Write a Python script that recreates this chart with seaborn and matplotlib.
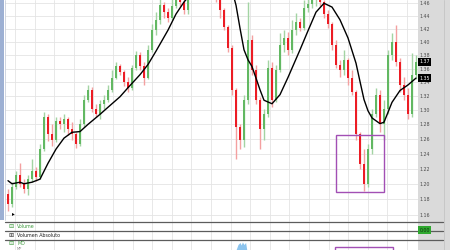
import numpy as np
import matplotlib
matplotlib.use("Agg")
import matplotlib.pyplot as plt
import seaborn as sns
from matplotlib.patches import Rectangle
from matplotlib.lines import Line2D
from matplotlib.ticker import NullLocator
import matplotlib.transforms as mtransforms

# ---------------- data ----------------
open_ = [1.187, 1.174, 1.196, 1.211, 1.200, 1.193, 1.206, 1.217, 1.209, 1.246,
         1.290, 1.266, 1.259, 1.284, 1.280, 1.287, 1.273, 1.266, 1.253, 1.280,
         1.315, 1.329, 1.301, 1.294, 1.308, 1.315, 1.329, 1.346, 1.364, 1.355,
         1.341, 1.332, 1.361, 1.380, 1.364, 1.346, 1.388, 1.418, 1.434, 1.457,
         1.446, 1.437, 1.456, 1.472, 1.462, 1.449, 1.473, 1.489, 1.501, 1.514,
         1.506, 1.497, 1.484, 1.470, 1.449, 1.423, 1.391, 1.329, 1.276, 1.259,
         1.315, 1.403, 1.358, 1.315, 1.273, 1.294, 1.361, 1.315, 1.358, 1.395,
         1.406, 1.388, 1.418, 1.431, 1.421, 1.452, 1.459, 1.465, 1.468, 1.462,
         1.443, 1.428, 1.395, 1.366, 1.358, 1.373, 1.346, 1.326, 1.266, 1.226,
         1.200, 1.246, 1.294, 1.322, 1.280, 1.301, 1.380, 1.400, 1.370, 1.336,
         1.322, 1.294, 1.351]
close_ = [1.174, 1.196, 1.211, 1.200, 1.193, 1.206, 1.217, 1.209, 1.246, 1.290,
          1.266, 1.259, 1.284, 1.280, 1.287, 1.273, 1.266, 1.253, 1.280, 1.315,
          1.329, 1.301, 1.294, 1.308, 1.315, 1.329, 1.346, 1.364, 1.355, 1.341,
          1.332, 1.361, 1.380, 1.364, 1.346, 1.388, 1.418, 1.434, 1.457, 1.446,
          1.437, 1.456, 1.472, 1.462, 1.449, 1.473, 1.489, 1.501, 1.514, 1.506,
          1.497, 1.484, 1.470, 1.449, 1.423, 1.391, 1.329, 1.276, 1.259, 1.315,
          1.403, 1.358, 1.315, 1.273, 1.294, 1.361, 1.315, 1.358, 1.395, 1.406,
          1.388, 1.418, 1.431, 1.421, 1.452, 1.459, 1.465, 1.468, 1.462, 1.443,
          1.428, 1.395, 1.366, 1.358, 1.373, 1.346, 1.326, 1.266, 1.226, 1.200,
          1.246, 1.294, 1.322, 1.280, 1.301, 1.380, 1.400, 1.370, 1.336, 1.322,
          1.294, 1.351, 1.370]
high_ = [1.193, 1.202, 1.217, 1.228, 1.206, 1.211, 1.233, 1.222, 1.253, 1.297,
         1.295, 1.280, 1.290, 1.290, 1.294, 1.290, 1.283, 1.270, 1.287, 1.322,
         1.336, 1.333, 1.308, 1.315, 1.322, 1.336, 1.358, 1.370, 1.367, 1.358,
         1.347, 1.366, 1.386, 1.385, 1.370, 1.395, 1.428, 1.446, 1.468, 1.462,
         1.452, 1.468, 1.481, 1.478, 1.468, 1.484, 1.497, 1.510, 1.522, 1.520,
         1.514, 1.504, 1.489, 1.475, 1.452, 1.426, 1.395, 1.332, 1.280, 1.322,
         1.462, 1.411, 1.366, 1.318, 1.301, 1.373, 1.370, 1.366, 1.413, 1.418,
         1.415, 1.434, 1.444, 1.437, 1.465, 1.468, 1.472, 1.475, 1.473, 1.465,
         1.449, 1.431, 1.403, 1.373, 1.388, 1.376, 1.358, 1.329, 1.269, 1.246,
         1.253, 1.301, 1.332, 1.329, 1.315, 1.388, 1.413, 1.426, 1.376, 1.347,
         1.332, 1.383, 1.380]
low_ = [1.165, 1.170, 1.193, 1.196, 1.188, 1.186, 1.202, 1.203, 1.206, 1.243,
        1.257, 1.250, 1.256, 1.273, 1.269, 1.265, 1.259, 1.247, 1.250, 1.277,
        1.312, 1.297, 1.290, 1.287, 1.301, 1.311, 1.326, 1.344, 1.350, 1.335,
        1.326, 1.329, 1.358, 1.358, 1.336, 1.344, 1.385, 1.411, 1.428, 1.437,
        1.431, 1.434, 1.452, 1.456, 1.443, 1.443, 1.470, 1.484, 1.494, 1.497,
        1.489, 1.478, 1.462, 1.437, 1.418, 1.385, 1.322, 1.233, 1.246, 1.249,
        1.308, 1.351, 1.308, 1.246, 1.259, 1.290, 1.304, 1.311, 1.355, 1.385,
        1.380, 1.383, 1.411, 1.416, 1.418, 1.446, 1.452, 1.456, 1.456, 1.437,
        1.421, 1.388, 1.361, 1.348, 1.351, 1.336, 1.322, 1.259, 1.219, 1.191,
        1.196, 1.239, 1.290, 1.270, 1.259, 1.294, 1.373, 1.364, 1.326, 1.315,
        1.287, 1.290, 1.344]

ma_idx = [0, 1, 3, 4, 6, 7, 8, 10, 12, 14, 16, 18, 20, 23, 25, 28, 30, 33, 35, 37,
          40, 42, 44, 47, 50, 53, 56, 57, 58, 59, 60, 61, 62, 63, 64, 66, 68, 70, 73,
          75, 77, 79, 81, 83, 85, 87, 88, 89, 90, 91, 93, 94, 96, 98, 100, 102]
ma_val = [1.204, 1.200, 1.202, 1.200, 1.202, 1.204, 1.206, 1.227, 1.246, 1.261,
          1.269, 1.270, 1.280, 1.294, 1.304, 1.319, 1.332, 1.351, 1.366, 1.386,
          1.418, 1.443, 1.462, 1.484, 1.494, 1.484, 1.481, 1.457, 1.421, 1.388,
          1.373, 1.363, 1.346, 1.329, 1.314, 1.309, 1.322, 1.347, 1.388, 1.417,
          1.446, 1.460, 1.454, 1.434, 1.406, 1.368, 1.341, 1.315, 1.299, 1.289,
          1.281, 1.283, 1.311, 1.328, 1.336, 1.346]

price_ticks = [1.16, 1.18, 1.20, 1.22, 1.24, 1.26, 1.28, 1.30, 1.32, 1.34,
               1.36, 1.38, 1.40, 1.42, 1.44, 1.46]

# highlighted zone (candle index range and price range)
zone_idx = [82, 94]
zone_price = [1.189, 1.265]
zone_idx_md = [81.75, 96.25]

md_idx = [57.0, 57.5, 58.0, 58.3, 58.6, 59.0, 59.4, 59.7]
md_val = [0.0, 0.55, 0.75, 0.5, 0.8, 0.55, 0.75, 0.0]

panel_labels = ["Volume", "Volumen Absoluto", "MD"]
panel_sub = "MP"
volume_value = "0.00"

# ---------------- styling ----------------
sns.set_theme(style="white")
plt.rcParams['font.family'] = ['DejaVu Sans']

W, H = 450, 250
fig = plt.figure(figsize=(4.5, 2.5), dpi=100, facecolor="white")


def fx(px):
    return px / W


def fy(py):
    return 1 - py / H


X0, X1 = 5, 418
MAIN_BOTTOM = 221
ax = fig.add_axes([fx(X0), fy(MAIN_BOTTOM), fx(X1) - fx(X0), fy(0) - fy(MAIN_BOTTOM)])
ax.set_facecolor("white")

o = np.array(open_)
c = np.array(close_)
h = np.array(high_)
l = np.array(low_)
idx = np.arange(len(o))
up = c >= o

GREEN = "#62b862"
RED = "#ec1c24"
GREEN_W = "#a3d4a3"
RED_W = "#f4a0a0"

ax.set_yscale("log")
ax.vlines(idx, l, h, colors=np.where(up, GREEN_W, RED_W), linewidth=1.0, zorder=2)
ax.bar(idx, np.abs(c - o), bottom=np.minimum(o, c), width=0.65,
       color=np.where(up, GREEN, RED), linewidth=0, zorder=3)

sns.lineplot(x=ma_idx, y=ma_val, ax=ax, color="black", linewidth=1.0,
             sort=False, estimator=None, zorder=4)

ax.add_patch(Rectangle((zone_idx[0], zone_price[0]), zone_idx[1] - zone_idx[0],
                       zone_price[1] - zone_price[0], fill=False,
                       edgecolor="#a24fb4", linewidth=1.0, zorder=5))

XMIN, XMAX = -0.75, 102.5
ax.set_xlim(XMIN, XMAX)
ax.set_ylim(1.1524, 1.4652)

grid_x = np.arange(1.75, XMAX, 4.9)
ax.set_xticks(grid_x)
ax.tick_params(axis="x", labelbottom=False, length=0)
ax.set_yticks(price_ticks)
ax.yaxis.set_minor_locator(NullLocator())
ax.set_yticklabels([f"{t:.2f}" for t in price_ticks])
ax.yaxis.tick_right()
ax.tick_params(axis="y", length=0, pad=1.2, labelsize=3.4, labelcolor="#4a4a4a")
ax.grid(True, color="#e4e4e4", linewidth=0.6, zorder=0)
ax.set_axisbelow(True)
for s in ax.spines.values():
    s.set_visible(False)
ax.set_xlabel("")
ax.set_ylabel("")

# last-value labels
tr = mtransforms.blended_transform_factory(ax.transAxes, ax.transData)
for val in (close_[-1], ma_val[-1]):
    ax.text(1.004, val, f"{val:.2f}", transform=tr, fontsize=3.4, color="white",
            ha="left", va="center", clip_on=False, zorder=10,
            bbox=dict(boxstyle="square,pad=0.25", fc="black", ec="none"))

# bottom panels axes (for gridlines)
axb = fig.add_axes([fx(X0), 0, fx(X1) - fx(X0), fy(MAIN_BOTTOM)])
axb.set_xlim(XMIN, XMAX)
axb.set_ylim(0, 1)
axb.set_xticks(grid_x)
axb.set_yticks([])
axb.tick_params(axis="x", labelbottom=False, length=0)
axb.grid(True, axis="x", color="#e4e4e4", linewidth=0.6)
for s in axb.spines.values():
    s.set_visible(False)
axb.set_facecolor("white")

# MD panel
axm = fig.add_axes([fx(X0), 0, fx(X1) - fx(X0), fy(240)])
axm.set_xlim(XMIN, XMAX)
axm.set_ylim(0, 1)
axm.axis("off")
axm.fill_between(md_idx, 0, md_val, color="#8cc4ee", linewidth=0)
axm.add_patch(Rectangle((zone_idx_md[0], -0.6), zone_idx_md[1] - zone_idx_md[0], 0.93,
                        fill=False, edgecolor="#a24fb4", linewidth=1.0, clip_on=False))

# right price strip and left bar
fig.patches.append(Rectangle((fx(418), 0), fx(450) - fx(418), 1, transform=fig.transFigure,
                             facecolor="#dadada", edgecolor="none", zorder=-1))
fig.add_artist(Line2D([fx(443.5), fx(443.5)], [0, 1], transform=fig.transFigure,
                      color="#c4c4c4", linewidth=0.6))
fig.patches.append(Rectangle((0, fy(220)), fx(4), fy(0) - fy(220), transform=fig.transFigure,
                             facecolor="#9db0d3", edgecolor="none", zorder=-1))
fig.add_artist(Line2D([fx(4.6), fx(4.6)], [fy(220), 1], transform=fig.transFigure,
                      color="#c9cfdc", linewidth=0.6))

# panel separator lines
for py in (222, 231, 240):
    fig.add_artist(Line2D([fx(5), fx(443)], [fy(py), fy(py)], transform=fig.transFigure,
                          color="#5c5c5c", linewidth=0.9))

# panel labels
fig.text(fx(8), fy(226.5), "\u229f", fontsize=4.5, color="#3f9a3f", va="center", ha="left")
fig.text(fx(17), fy(226.5), panel_labels[0], fontsize=3.4, color="#3f9a3f", va="center", ha="left")
fig.text(fx(8), fy(235.3), "\u229e", fontsize=4.5, color="#333333", va="center", ha="left")
fig.text(fx(17), fy(235.3), panel_labels[1], fontsize=3.4, color="#222222", va="center", ha="left")
fig.text(fx(8), fy(243.5), "\u229f", fontsize=4.5, color="#3f9a3f", va="center", ha="left")
fig.text(fx(17), fy(243.5), panel_labels[2], fontsize=3.4, color="#3f9a3f", va="center", ha="left")
fig.text(fx(17), fy(248.5), panel_sub, fontsize=2.6, color="#888888", va="center", ha="left")
fig.text(fx(12), fy(214), "\u25b8", fontsize=4, color="black", va="center", ha="left")
fig.text(fx(419.5), fy(230), volume_value, fontsize=3.4, color="#103010", va="center", ha="left",
         bbox=dict(boxstyle="square,pad=0.25", fc="#2fa82f", ec="none"))

fig.savefig("out.png", dpi=100, facecolor="white")
